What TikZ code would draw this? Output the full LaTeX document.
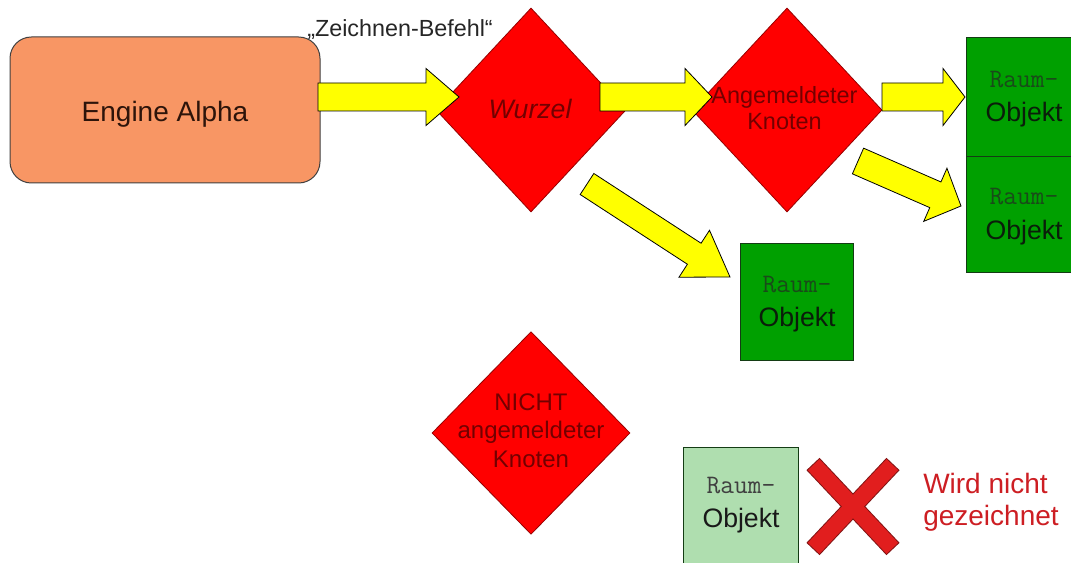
\documentclass[tikz,border=0pt]{standalone}
\usepackage{fontspec}
\setmainfont{Liberation Sans}
\usetikzlibrary{shapes.geometric,calc}

\definecolor{engorange}{RGB}{248,150,100}
\definecolor{engtext}{RGB}{45,20,10}
\definecolor{knotred}{RGB}{255,0,0}
\definecolor{knotborder}{RGB}{150,0,0}
\definecolor{knotfont}{RGB}{115,0,0}
\definecolor{ayellow}{RGB}{255,255,0}
\definecolor{rgreen}{RGB}{0,160,0}
\definecolor{rborder}{RGB}{20,60,20}
\definecolor{rlight}{RGB}{175,222,175}
\definecolor{raumcol}{RGB}{25,75,25}
\definecolor{objcol}{RGB}{10,30,10}
\definecolor{xred}{RGB}{225,30,30}
\definecolor{xborder}{RGB}{130,20,20}
\definecolor{wirdred}{RGB}{205,30,35}

\newcommand\fsz[2]{\fontsize{#1}{#2}\selectfont}
\newcommand\blockarrow[5]{%
  \coordinate (hb) at ($(#2)!#5!(#1)$);
  \draw[yarrow] ($(#1)!#3!90:(#2)$) -- ($(hb)!#3!90:(#2)$) -- ($(hb)!#4!90:(#2)$)
    -- (#2) -- ($(hb)!#4!-90:(#2)$) -- ($(hb)!#3!-90:(#2)$) -- ($(#1)!#3!-90:(#2)$) -- cycle;
}

\tikzset{
  enginebox/.style={draw=black!75, fill=engorange, rounded corners=16pt, line width=0.75pt,
    minimum width=232.5pt, minimum height=109.5pt, inner sep=0pt},
  enginetxt/.style={text=engtext, font=\fsz{21}{25}, inner sep=0pt},
  cmdtxt/.style={text=black!85, font=\fsz{17.5}{21}, inner sep=0pt},
  knot/.style={diamond, draw=knotborder, fill=knotred, inner sep=0pt, line width=0.6pt},
  knottxt/.style={text=knotfont, font=\fsz{17.6}{21}, inner sep=0pt},
  raumbox/.style={draw=rborder, fill=rgreen, line width=0.8pt, inner sep=0pt, anchor=north west},
  raumtxt/.style={text=raumcol, font=\ttfamily\fsz{20}{22}, inner sep=0pt, anchor=base},
  objtxt/.style={text=objcol, font=\fsz{20}{24}, inner sep=0pt, anchor=base},
  yarrow/.style={draw=black, fill=ayellow, line width=0.6pt, line join=miter},
  xout/.style={draw=xborder, line width=13.5pt},
  xin/.style={draw=xred, line width=12pt, shorten <=0.75pt, shorten >=0.75pt},
  wirdtxt/.style={text=wirdred, font=\fsz{21}{24}, inner sep=0pt, anchor=base west},
}

\begin{document}
\begin{tikzpicture}[x=0.75pt,y=-0.75pt]
\useasboundingbox (0,0) rectangle (1071,563);
\fill[white] (0,0) rectangle (1071,563);
\clip (0,0) rectangle (1071,563);

% Engine
\node[enginebox] (engine) at (165,110) {};
\node[enginetxt, anchor=base] (enginelabel) at (165,122) {Engine Alpha};
\node[cmdtxt, anchor=base] (cmd) at (400,37) {„Zeichnen-Befehl“};

% diamonds
\node[knot, minimum width=142.5pt, minimum height=153pt] (wurzel) at (531,110) {};
\node[knottxt, anchor=base, font=\itshape\fsz{20}{24}] (wurzellabel) at (530,119) {Wurzel};

\node[knot, minimum width=142.5pt, minimum height=153pt] (angem) at (787,110) {};
\node[knottxt, anchor=base] (angemA) at (784.5,104) {Angemeldeter};
\node[knottxt, anchor=base] (angemB) at (784.5,130) {Knoten};

\node[knot, minimum width=148.5pt, minimum height=152pt] (nicht) at (531,433) {};
\node[knottxt, anchor=base, font=\fsz{18}{22}] (nichtA) at (531,410) {NICHT};
\node[knottxt, anchor=base, font=\fsz{18}{22}] (nichtB) at (531,438) {angemeldeter};
\node[knottxt, anchor=base, font=\fsz{18}{22}] (nichtC) at (531,467) {Knoten};

% Raum-Objekt boxes
\node[raumbox, minimum width=86.25pt, minimum height=89.25pt] (r1) at (966,37) {};
\node[raumbox, minimum width=86.25pt, minimum height=87pt] (r2) at (966,156) {};
\node[raumbox, minimum width=84.75pt, minimum height=87.75pt] (r3) at (740,243) {};
\node[raumbox, fill=rlight, minimum width=86.25pt, minimum height=90pt] (r4) at (683,447) {};

\foreach \b in {r1,r2,r3}{
  \node[raumtxt] at ($(\b.center)+(0,-10)$) {Raum-};
  \node[objtxt] at ($(\b.center)+(0,24.5)$) {Objekt};
}
\node[raumtxt, text=black!75] (r4a) at ($(r4.center)+(0,-14)$) {Raum-};
\node[objtxt, text=black!90] (r4b) at ($(r4.center)+(0,20)$) {Objekt};

% arrows
\coordinate (a1s) at (318,97);  \coordinate (a1e) at (459,97);
\coordinate (a2s) at (600,97);  \coordinate (a2e) at (712,97);
\coordinate (a3s) at (882,97);  \coordinate (a3e) at (965,97);
\coordinate (a4s) at (858,161); \coordinate (a4e) at (961,206);
\coordinate (a5s) at (587,184); \coordinate (a5e) at (730,277);
\blockarrow{a1s}{a1e}{10.5pt}{21.4pt}{24.75pt}
\blockarrow{a2s}{a2e}{10.5pt}{21.4pt}{20.25pt}
\blockarrow{a3s}{a3e}{10.5pt}{21.4pt}{16.5pt}
\blockarrow{a4s}{a4e}{10.5pt}{21.75pt}{21pt}
\blockarrow{a5s}{a5e}{9.4pt}{21pt}{32pt}

% red X
\coordinate (xa) at (813,464); \coordinate (xb) at (893,549);
\coordinate (xc) at (893,464); \coordinate (xd) at (813,549);
\draw[xout] (xa) -- (xb);
\draw[xout] (xc) -- (xd);
\draw[xin] (xa) -- (xb);
\draw[xin] (xc) -- (xd);

\node[wirdtxt] (wird1) at (923,493) {Wird nicht};
\node[wirdtxt] (wird2) at (923,525) {gezeichnet};
\end{tikzpicture}
\end{document}
